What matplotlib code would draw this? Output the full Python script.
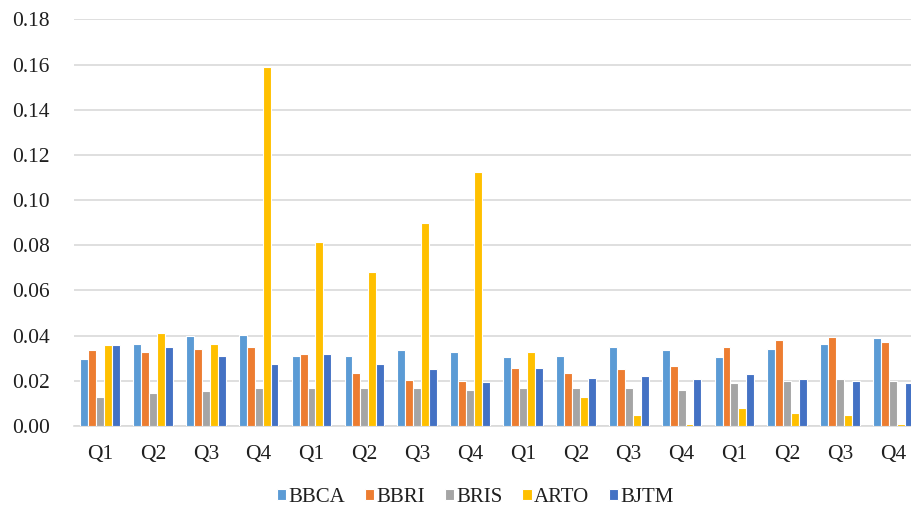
import numpy as np
import matplotlib.pyplot as plt

plt.rcParams['font.family'] = ['Liberation Serif', 'DejaVu Serif']

# quarterly values per bank, four years of Q1..Q4
quarters = ['Q1', 'Q2', 'Q3', 'Q4'] * 4
bbca = [0.0297, 0.0365, 0.0397, 0.0403, 0.0312, 0.0312, 0.0336, 0.0327,
        0.0305, 0.0312, 0.0350, 0.0336, 0.0305, 0.0341, 0.0365, 0.0388]
bbri = [0.0336, 0.0328, 0.0341, 0.0350, 0.0319, 0.0236, 0.0205, 0.0199,
        0.0258, 0.0236, 0.0252, 0.0267, 0.0350, 0.0381, 0.0396, 0.0372]
bris = [0.0130, 0.0148, 0.0155, 0.0170, 0.0170, 0.0170, 0.0170, 0.0161,
        0.0170, 0.0170, 0.0170, 0.0161, 0.0192, 0.0199, 0.0207, 0.0199]
arto = [0.0359, 0.0410, 0.0365, 0.1590, 0.0815, 0.0680, 0.0900, 0.1125,
        0.0327, 0.0130, 0.0047, 0.0010, 0.0078, 0.0056, 0.0047, 0.0010]
bjtm = [0.0359, 0.0350, 0.0312, 0.0275, 0.0319, 0.0275, 0.0252, 0.0193,
        0.0258, 0.0214, 0.0221, 0.0207, 0.0230, 0.0207, 0.0199, 0.0192]

series = {'BBCA': bbca, 'BBRI': bbri, 'BRIS': bris, 'ARTO': arto, 'BJTM': bjtm}
colors = ['#5B9BD5', '#ED7D31', '#A5A5A5', '#FFC000', '#4472C4']

fig = plt.figure(figsize=(9.12, 5.09), dpi=100)
ax = fig.add_axes([0.0807, 0.163, 0.9275, 0.799])

x = np.arange(len(quarters))
w = 0.15
for i, (name, vals) in enumerate(series.items()):
    ax.bar(x + (i - 2) * w, vals, width=w, color=colors[i], label=name,
           edgecolor='white', linewidth=0.8, zorder=3)

ax.set_xlim(-0.5, len(quarters) - 0.5)
ax.set_ylim(0, 0.18)
ax.set_yticks(np.arange(0, 0.181, 0.02))
ax.set_yticklabels([f'{v:.2f}' for v in np.arange(0, 0.181, 0.02)])
ax.set_xticks(x)
ax.set_xticklabels(quarters)

ax.grid(axis='y', color='#D9D9D9', linewidth=1.2, zorder=0)
for s in ['top', 'right', 'left']:
    ax.spines[s].set_visible(False)
ax.spines['bottom'].set_color('#D9D9D9')
ax.spines['bottom'].set_linewidth(1.2)
ax.tick_params(axis='both', length=0, labelsize=15.5)
ax.tick_params(axis='x', pad=14)
ax.tick_params(axis='y', pad=17)
for lbl in ax.get_xticklabels() + ax.get_yticklabels():
    lbl.set_color('#1F1F1F')

leg = fig.legend(loc='lower center', bbox_to_anchor=(0.521, -0.032), ncol=5,
                 frameon=False, fontsize=15, handlelength=0.45, handleheight=0.45,
                 handletextpad=0.1, columnspacing=0.95)
for t in leg.get_texts():
    t.set_color('#1F1F1F')

fig.savefig('out.png', dpi=100)
